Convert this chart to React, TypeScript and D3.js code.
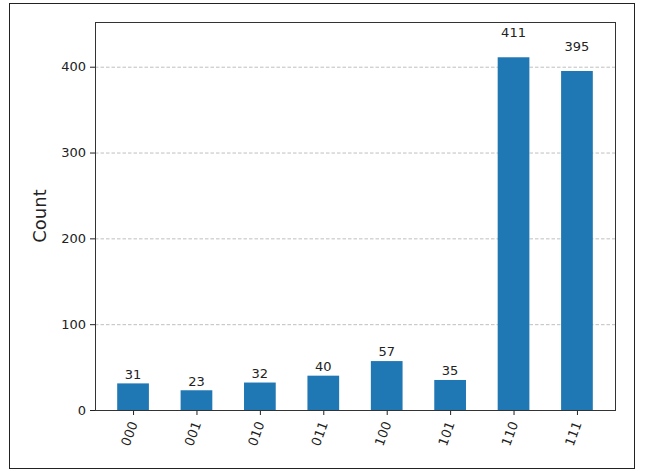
import { useEffect, useRef } from 'react'
import * as d3 from 'd3'

const states = ['000', '001', '010', '011', '100', '101', '110', '111']
const counts = [31, 23, 32, 40, 57, 35, 411, 395]
const yTicks = [0, 100, 200, 300, 400]

const width = 660
const height = 471
const margin = { top: 22, right: 45, bottom: 61, left: 95 }

const App = () => {
  const svgRef = useRef<SVGSVGElement | null>(null)

  useEffect(() => {
    if (!svgRef.current) return
    const svg = d3.select(svgRef.current)
    svg.selectAll('*').remove()

    const font = 'DejaVu Sans, sans-serif'

    // figure frame
    svg
      .append('rect')
      .attr('x', 9.5)
      .attr('y', 3.5)
      .attr('width', 625)
      .attr('height', 465)
      .attr('fill', 'white')
      .attr('stroke', '#222')
      .attr('stroke-width', 1)

    const x = d3
      .scaleLinear()
      .domain([-0.6, states.length - 1 + 0.6])
      .range([margin.left, width - margin.right])

    const y = d3
      .scaleLinear()
      .domain([0, d3.max(counts)! * 1.1])
      .range([height - margin.bottom, margin.top])

    const bandPx = x(1) - x(0)
    const barW = bandPx * 0.5

    // grid
    svg
      .append('g')
      .selectAll('line')
      .data(yTicks.filter((t) => t > 0))
      .enter()
      .append('line')
      .attr('x1', margin.left)
      .attr('x2', width - margin.right)
      .attr('y1', (d) => y(d) + 0.5)
      .attr('y2', (d) => y(d) + 0.5)
      .attr('stroke', '#b0b0b0')
      .attr('stroke-width', 0.8)
      .attr('stroke-dasharray', '3.5,2')

    // bars
    svg
      .append('g')
      .selectAll('rect')
      .data(counts)
      .enter()
      .append('rect')
      .attr('x', (_, i) => x(i) - barW / 2)
      .attr('y', (d) => y(d))
      .attr('width', barW)
      .attr('height', (d) => y(0) - y(d))
      .attr('fill', '#1f77b4')

    // value labels, bottom sits at 1.05 * value
    svg
      .append('g')
      .selectAll('text')
      .data(counts)
      .enter()
      .append('text')
      .attr('x', (_, i) => x(i))
      .attr('y', (d) => y(d * 1.05) - 3)
      .attr('text-anchor', 'middle')
      .attr('font-family', font)
      .attr('font-size', 13)
      .attr('fill', '#222')
      .text((d) => d)

    // axes
    const yAxis = svg
      .append('g')
      .attr('transform', `translate(${margin.left},0)`)
      .call(d3.axisLeft(y).tickValues(yTicks).tickSize(5).tickPadding(4))
    yAxis.select('.domain').remove()
    yAxis.selectAll('text').attr('font-family', font).attr('font-size', 13).attr('fill', '#222')
    yAxis.selectAll('line').attr('stroke', '#222')

    const xAxis = svg
      .append('g')
      .attr('transform', `translate(0,${height - margin.bottom})`)
      .call(
        d3
          .axisBottom(x)
          .tickValues(d3.range(states.length))
          .tickFormat((d) => states[d as number])
          .tickSize(5)
          .tickPadding(4)
      )
    xAxis.select('.domain').remove()
    xAxis.selectAll('line').attr('stroke', '#222')
    xAxis
      .selectAll('text')
      .attr('font-family', font)
      .attr('font-size', 13)
      .attr('fill', '#222')
      .attr('text-anchor', 'end')
      .attr('dy', '0.35em')
      .attr('transform', 'translate(0,12) rotate(-70)')
      .attr('x', 0)
      .attr('y', 0)

    // plot frame
    svg
      .append('rect')
      .attr('x', margin.left + 0.5)
      .attr('y', margin.top + 0.5)
      .attr('width', width - margin.left - margin.right)
      .attr('height', height - margin.top - margin.bottom)
      .attr('fill', 'none')
      .attr('stroke', '#333')
      .attr('stroke-width', 1)

    svg
      .append('text')
      .attr('transform', `translate(46,${(margin.top + height - margin.bottom) / 2}) rotate(-90)`)
      .attr('text-anchor', 'middle')
      .attr('font-family', font)
      .attr('font-size', 18)
      .attr('fill', '#222')
      .text('Count')
  }, [])

  return (
    <svg
      ref={svgRef}
      width={width}
      height={height}
      style={{ position: 'absolute', left: 0, top: 0, background: 'white' }}
    />
  )
}

export default App
